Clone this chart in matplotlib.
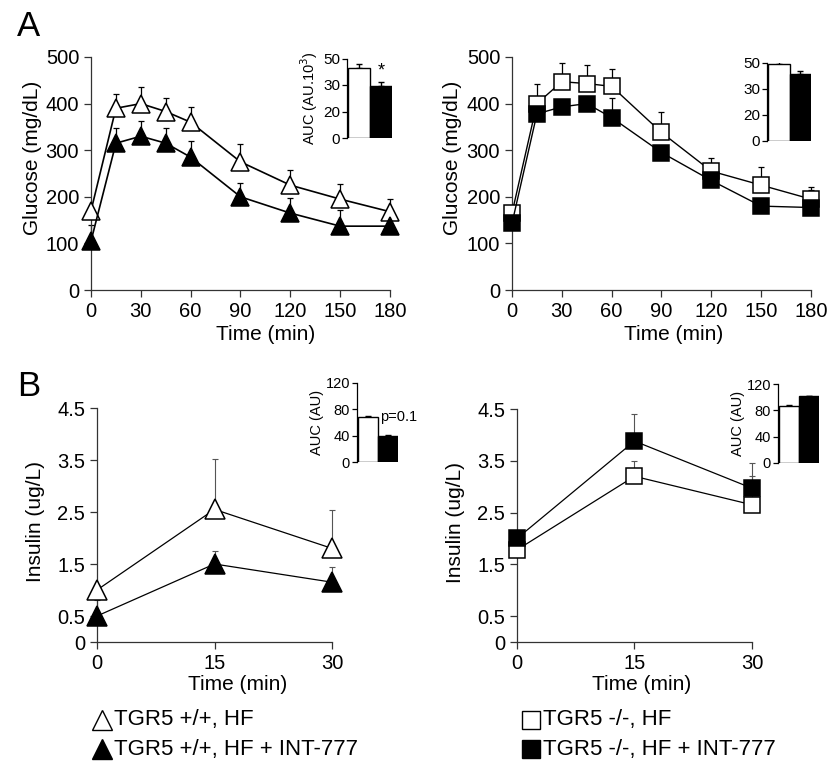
import matplotlib
matplotlib.use("Agg")
import matplotlib.pyplot as plt
from matplotlib.lines import Line2D
import numpy as np

plt.rcParams['font.family'] = ['Liberation Sans', 'DejaVu Sans']
plt.rcParams['axes.linewidth'] = 0.9

# ---- glucose tolerance test (panel A) ----
gtt_time = [0, 15, 30, 45, 60, 90, 120, 150, 180]
wt_hf = [170, 390, 400, 383, 360, 275, 225, 195, 168]
wt_hf_err = [0, 30, 35, 30, 33, 38, 33, 33, 28]
wt_int = [105, 315, 330, 315, 285, 200, 165, 137, 137]
wt_int_err = [35, 33, 33, 33, 35, 30, 32, 34, 0]

ko_hf = [165, 400, 447, 443, 437, 338, 255, 225, 195]
ko_hf_err = [0, 42, 40, 40, 38, 45, 28, 40, 25]
ko_int = [143, 378, 393, 400, 370, 295, 235, 180, 177]
ko_int_err = [0, 0, 0, 0, 42, 0, 0, 0, 37]

# AUC insets for A (ticks are labelled 0, 20, 30, 50 at even spacing)
auc_a_ticks = ["0", "20", "30", "50"]
auc_wt_a = [44, 32.5]
auc_wt_a_err = [2.8, 2.5]
auc_ko_a = [48.9, 42.5]
auc_ko_a_err = [2.3, 2.3]

# ---- insulin (panel B) ----
ins_time = [0, 15, 30]
wt_ins_hf = [1.0, 2.55, 1.8]
wt_ins_hf_err = [0.1, 0.97, 0.74]
wt_ins_int = [0.5, 1.5, 1.15]
wt_ins_int_err = [0.3, 0.25, 0.3]

ko_ins_hf = [1.78, 3.2, 2.65]
ko_ins_hf_err = [0, 0.3, 0.55]
ko_ins_int = [2.0, 3.88, 2.97]
ko_ins_int_err = [0, 0.53, 0.49]

auc_wt_b = [68, 40]
auc_wt_b_err = [2.5, 1.5]
auc_ko_b = [86.5, 101.5]
auc_ko_b_err = [1.0, 1.0]

W, H = 837, 771
fig = plt.figure(figsize=(W / 100, H / 100), dpi=100)

TICK_FS = 14.5
LABEL_FS = 15


def px_axes(left, top, right, bottom):
    return fig.add_axes([left / W, 1 - bottom / H, (right - left) / W, (bottom - top) / H])


def style_main(ax):
    ax.spines['top'].set_visible(False)
    ax.spines['right'].set_visible(False)
    for s in ('left', 'bottom'):
        ax.spines[s].set_color('#333333')
    ax.tick_params(direction='out', length=5, width=0.9, color='#333333',
                   labelsize=TICK_FS, pad=3.5)


def draw_series(ax, x, y, err, marker, face, ms, lw=1.2, ecol='black', elw=0.9):
    up = np.array(err, dtype=float)
    ax.errorbar(x, y, yerr=[np.zeros_like(up), up], fmt='none', ecolor=ecol,
                elinewidth=elw, capsize=2.5, capthick=elw, zorder=2, clip_on=False)
    ax.plot(x, y, color='black', lw=lw, marker=marker, ms=ms, mfc=face, mec='black',
            mew=1.1, zorder=3, clip_on=False)


def inset_bars(ax, vals, errs, ylim, ticks, labels, fs=11):
    ax.bar([0, 1], vals, width=1.0, color=['white', 'black'], edgecolor='black',
           linewidth=1.0, zorder=2)
    up = np.array(errs, dtype=float)
    ax.errorbar([0, 1], vals, yerr=[np.zeros_like(up), up], fmt='none',
                ecolor='black', elinewidth=1.0, capsize=2.5, capthick=1.0, zorder=1)
    ax.set_xlim(-0.56, 1.5)
    ax.set_ylim(*ylim)
    ax.set_yticks(ticks)
    ax.set_yticklabels(labels)
    ax.set_xticks([])
    for s in ('top', 'right', 'bottom'):
        ax.spines[s].set_visible(False)
    ax.tick_params(axis='y', direction='out', length=3.5, width=0.9, labelsize=fs, pad=1.5)
    ax.patch.set_alpha(0)


# ---------- A left ----------
ax1 = px_axes(91, 57, 390, 290)
draw_series(ax1, gtt_time, wt_hf, wt_hf_err, '^', 'white', 13)
draw_series(ax1, gtt_time, wt_int, wt_int_err, '^', 'black', 13)
ax1.set_xlim(0, 180)
ax1.set_ylim(0, 500)
ax1.set_xticks([0, 30, 60, 90, 120, 150, 180])
ax1.set_yticks([0, 100, 200, 300, 400, 500])
style_main(ax1)
ax1.set_ylabel("Glucose (mg/dL)", fontsize=LABEL_FS)
ax1.yaxis.set_label_coords(-0.164, 0.565)
ax1.set_xlabel("Time (min)", fontsize=LABEL_FS)
ax1.xaxis.set_label_coords(0.585, -0.15)

# ---------- A right ----------
ax2 = px_axes(512, 57, 811, 290)
draw_series(ax2, gtt_time, ko_hf, ko_hf_err, 's', 'white', 12, lw=1.0)
draw_series(ax2, gtt_time, ko_int, ko_int_err, 's', 'black', 12, lw=1.0)
ax2.set_xlim(0, 180)
ax2.set_ylim(0, 500)
ax2.set_xticks([0, 30, 60, 90, 120, 150, 180])
ax2.set_yticks([0, 100, 200, 300, 400, 500])
style_main(ax2)
ax2.set_ylabel("Glucose (mg/dL)", fontsize=LABEL_FS)
ax2.yaxis.set_label_coords(-0.167, 0.565)
ax2.set_xlabel("Time (min)", fontsize=LABEL_FS)
ax2.xaxis.set_label_coords(0.54, -0.15)

# A insets
tick_pos_a = [0, 50 / 3, 100 / 3, 50]
ia1 = px_axes(347, 58.5, 392, 138)
inset_bars(ia1, auc_wt_a, auc_wt_a_err, (0, 50), tick_pos_a, auc_a_ticks)
ia1.set_ylabel("AUC (AU.10$^3$)", fontsize=10.5, labelpad=2)
ia1.text(1.0, auc_wt_a[1] + auc_wt_a_err[1] + 1.5, "*", ha='center', va='bottom',
         fontsize=13)

ia2 = px_axes(767, 62.7, 811, 140.5)
inset_bars(ia2, auc_ko_a, auc_ko_a_err, (0, 50), tick_pos_a, auc_a_ticks)

# ---------- B left ----------
ins_ticks = [0, 0.5, 1.5, 2.5, 3.5, 4.5]
ins_labels = ["0", "0.5", "1.5", "2.5", "3.5", "4.5"]
ax3 = px_axes(97, 408, 332, 642)
draw_series(ax3, ins_time, wt_ins_hf, wt_ins_hf_err, '^', 'white', 14, lw=0.9,
            ecol='#555555', elw=0.8)
draw_series(ax3, ins_time, wt_ins_int, wt_ins_int_err, '^', 'black', 14, lw=0.9,
            ecol='#555555', elw=0.8)
ax3.set_xlim(0, 30)
ax3.set_ylim(0, 4.5)
ax3.set_xticks([0, 15, 30])
ax3.set_yticks(ins_ticks)
ax3.set_yticklabels(ins_labels)
style_main(ax3)
ax3.set_ylabel("Insulin (ug/L)", fontsize=LABEL_FS)
ax3.yaxis.set_label_coords(-0.22, 0.515)
ax3.set_xlabel("Time (min)", fontsize=LABEL_FS)
ax3.xaxis.set_label_coords(0.6, -0.141)

# ---------- B right ----------
ax4 = px_axes(517, 409, 752, 642)
draw_series(ax4, ins_time, ko_ins_hf, ko_ins_hf_err, 's', 'white', 11, lw=0.9,
            ecol='#555555', elw=0.8)
draw_series(ax4, ins_time, ko_ins_int, ko_ins_int_err, 's', 'black', 11, lw=0.9,
            ecol='#555555', elw=0.8)
ax4.set_xlim(0, 30)
ax4.set_ylim(0, 4.5)
ax4.set_xticks([0, 15, 30])
ax4.set_yticks(ins_ticks)
ax4.set_yticklabels(ins_labels)
style_main(ax4)
ax4.set_ylabel("Insulin (ug/L)", fontsize=LABEL_FS)
ax4.yaxis.set_label_coords(-0.22, 0.515)
ax4.set_xlabel("Time (min)", fontsize=LABEL_FS)
ax4.xaxis.set_label_coords(0.53, -0.141)

# B insets
ib1 = px_axes(357, 383, 398, 462)
inset_bars(ib1, auc_wt_b, auc_wt_b_err, (0, 120), [0, 40, 80, 120],
           ["0", "40", "80", "120"], fs=10.5)
ib1.set_ylabel("AUC (AU)", fontsize=10.5, labelpad=1)
ib1.text(0.6, 68, "p=0.1", ha='left', va='center', fontsize=10.5)

ib2 = px_axes(778, 384, 819, 463)
inset_bars(ib2, auc_ko_b, auc_ko_b_err, (0, 120), [0, 40, 80, 120],
           ["0", "40", "80", "120"], fs=10.5)
ib2.set_ylabel("AUC (AU)", fontsize=10.5, labelpad=1)

# panel letters
fig.text(17 / W, 1 - 26 / H, "A", fontsize=25, va='center', ha='left')
fig.text(17 / W, 1 - 387 / H, "B", fontsize=25, va='center', ha='left')

# legends
legend_rows = [
    (102, 720, '^', 'white', "TGR5 +/+, HF"),
    (102, 749, '^', 'black', "TGR5 +/+, HF + INT-777"),
    (531, 720, 's', 'white', "TGR5 -/-, HF"),
    (531, 749, 's', 'black', "TGR5 -/-, HF + INT-777"),
]
for mx, my, mk, fc, label in legend_rows:
    ms = 15 if mk == '^' else 13
    fig.add_artist(Line2D([mx / W], [1 - my / H], marker=mk, ms=ms, mfc=fc,
                          mec='black', mew=1.0, transform=fig.transFigure))
    fig.text((mx + 12) / W, 1 - my / H, label, fontsize=16, va='center', ha='left')

fig.savefig("out.png", dpi=100)
